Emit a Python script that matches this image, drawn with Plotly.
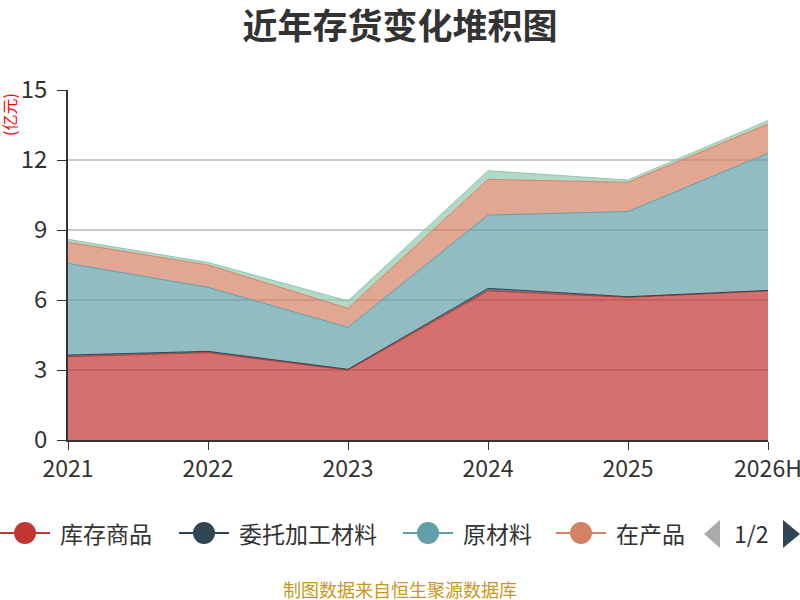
import plotly.graph_objects as go

years = ["2021", "2022", "2023", "2024", "2025", "2026H"]

# 亿元
kucun_shangpin = [3.57, 3.74, 3.00, 6.39, 6.11, 6.39]
weituo_jiagong = [0.07, 0.06, 0.03, 0.11, 0.03, 0.02]
yuan_cailiao = [3.93, 2.74, 1.80, 3.14, 3.65, 5.88]
zaichanpin = [0.90, 0.96, 0.81, 1.53, 1.25, 1.25]
zhouzhuan_cailiao = [0.13, 0.11, 0.32, 0.37, 0.10, 0.15]

series = [
    ("库存商品", kucun_shangpin, "#c23531"),
    ("委托加工材料", weituo_jiagong, "#2f4554"),
    ("原材料", yuan_cailiao, "#61a0a8"),
    ("在产品", zaichanpin, "#d48265"),
    ("周转材料", zhouzhuan_cailiao, "#91c7ae"),
]
# page 1 of the legend shows the first four, starting at these pixel x's
legend_x = [0, 179, 403, 556]

FONT = "Noto Sans CJK SC"


def rgba(hex_color, alpha):
    h = hex_color.lstrip("#")
    r, g, b = (int(h[i:i + 2], 16) for i in (0, 2, 4))
    return f"rgba({r},{g},{b},{alpha})"


# pixel -> paper helpers (plot area is x 68..768, y 90..440)
def px_x(p):
    return (p - 68) / 700


def px_y(p):
    return (440 - p) / 350


fig = go.Figure()

for name, vals, color in series:
    fig.add_trace(go.Scatter(
        x=years, y=vals, name=name, mode="lines",
        stackgroup="one",
        line=dict(color=color, width=1),
        fillcolor=rgba(color, 0.7),
        showlegend=False,
    ))

shapes = []
annotations = []

# paged legend, drawn like the original (line + big dot, then label)
ly = 533
for (name, _, color), x0 in zip(series[:4], legend_x):
    shapes.append(dict(type="line", xref="paper", yref="paper",
                       x0=px_x(x0), x1=px_x(x0 + 50), y0=px_y(ly), y1=px_y(ly),
                       line=dict(color=color, width=2)))
    shapes.append(dict(type="circle", xref="paper", yref="paper",
                       x0=px_x(x0 + 14), x1=px_x(x0 + 36),
                       y0=px_y(ly + 11), y1=px_y(ly - 11),
                       fillcolor=color, line=dict(width=0)))
    annotations.append(dict(text=name, xref="paper", yref="paper",
                            x=px_x(x0 + 58), y=px_y(ly), xanchor="left",
                            yanchor="middle", showarrow=False,
                            font=dict(size=23, color="#333333", family=FONT)))


def tri(points, color):
    path = "M " + " L ".join(f"{px_x(a)},{px_y(b)}" for a, b in points) + " Z"
    return dict(type="path", xref="paper", yref="paper", path=path,
                fillcolor=color, line=dict(width=0))


shapes.append(tri([(720, 520), (704, 534), (720, 548)], "#aaaaaa"))
shapes.append(tri([(783, 520), (800, 534), (783, 548)], "#2f4554"))

annotations += [
    dict(text="1/2", xref="paper", yref="paper",
         x=px_x(751), y=px_y(533), xanchor="center", yanchor="middle",
         showarrow=False, font=dict(size=23, color="#333333", family=FONT)),
    dict(text="(亿元)", xref="paper", yref="paper",
         x=px_x(9), y=px_y(115), xanchor="center", yanchor="middle",
         textangle=-90, showarrow=False,
         font=dict(size=16, color="red", family=FONT)),
    dict(text="制图数据来自恒生聚源数据库", xref="paper", yref="paper",
         x=px_x(400), y=px_y(589), xanchor="center", yanchor="middle",
         showarrow=False,
         font=dict(size=18, color="#c9961e", family=FONT)),
]

fig.update_layout(
    width=800, height=600,
    margin=dict(l=68, r=32, t=90, b=160, autoexpand=False),
    paper_bgcolor="white", plot_bgcolor="white",
    font=dict(family=FONT, color="#333333"),
    title=dict(text="<b>近年存货变化堆积图</b>", x=0.5, xanchor="center",
               y=1 - 27 / 600, yanchor="middle",
               font=dict(size=35, color="#333333", family=FONT)),
    showlegend=False,
    xaxis=dict(type="category", range=[0, 5], showgrid=False,
               showline=True, linecolor="#333333", linewidth=1.5,
               ticks="outside", ticklen=8, tickcolor="#333333",
               tickfont=dict(size=23, color="#333333"), automargin=False),
    yaxis=dict(range=[0, 15], dtick=3, showgrid=True,
               gridcolor="#c8c8c8", gridwidth=1.5, zeroline=False,
               showline=True, linecolor="#333333", linewidth=1.5,
               ticks="outside", ticklen=9, tickcolor="#333333",
               ticklabelstandoff=5,
               tickfont=dict(size=24, color="#333333"), automargin=False),
    shapes=shapes,
    annotations=annotations,
)

# drop the page's default body margin so the 800x600 figure fills the window
fig.write_html("out.html", config={"displayModeBar": False},
               post_script="document.body.style.margin='0';")
